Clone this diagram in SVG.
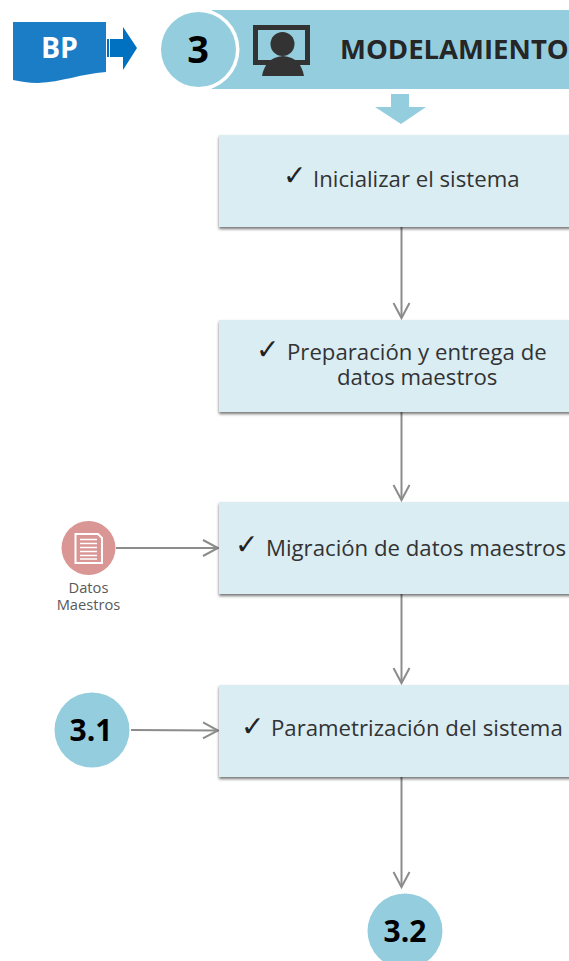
<svg xmlns="http://www.w3.org/2000/svg" width="569" height="961" viewBox="0 0 569 961">
<defs>
<style>
text{font-family:"Open Sans","Noto Sans","Liberation Sans",sans-serif}
.box{fill:#daedf3;filter:url(#sh)}
.lbl{font-size:22.200px;fill:#333}
.chk{font-size:28px;fill:#222;font-family:"DejaVu Sans",sans-serif}
.circ{fill:#94cdde}
.num{font-size:30px;font-weight:700;fill:#000;text-anchor:middle}
.cn{fill:none;stroke:#8c8c8c;stroke-width:2}
</style>
<filter id="sh" x="-5%" y="-10%" width="110%" height="125%"><feDropShadow dx="0" dy="2" stdDeviation="1.5" flood-color="#000" flood-opacity="0.55"/></filter>
<marker id="ah" markerUnits="userSpaceOnUse" markerWidth="20" markerHeight="20" refX="16" refY="9" orient="auto"><path d="M1 1L16 9L1 17" fill="none" stroke="#8c8c8c" stroke-width="2"/></marker>
</defs>
<g id="bp">
<path d="M13 22H106V72C80 74 62 82 38 83C28 83 20 81 13 80Z" fill="#1b7dc6"/>
<text x="59.500" y="58" font-size="28.500" font-weight="700" fill="#fff" text-anchor="middle">BP</text>
</g>
<g id="bp-arrow" fill="#0070c0">
<rect x="107" y="39" width="2" height="18"/>
<rect x="110" y="39" width="1" height="18"/>
<path d="M111 39H123V27L137 48L123 70V57H111Z"/>
</g>
<g id="header">
<rect x="212" y="10" width="357" height="79" fill="#94cdde"/>
<circle cx="198.500" cy="49.500" r="41" fill="#fff"/>
<circle cx="198.500" cy="49.500" r="37.500" class="circ"/>
<text x="198" y="63" class="num" style="font-size:38px">3</text>
<rect x="255.500" y="27.500" width="52" height="35" fill="none" stroke="#333" stroke-width="5"/>
<circle cx="282.500" cy="44" r="12" fill="#333"/>
<path d="M262 76C264 65 270 57 283 56C296 57 302 65 304 76Z" fill="#333"/>
<text x="340" y="59" font-size="27.500" font-weight="700" fill="#262626">MODELAMIENTO</text>
</g>
<path id="down-arrow" d="M391 94H409V107H426L401 124L375 107H391Z" fill="#94cdde"/>
<g id="connectors">
<path class="cn" d="M401.500 227V318" marker-end="url(#ah)"/>
<path class="cn" d="M401.500 412V500" marker-end="url(#ah)"/>
<path class="cn" d="M401.500 594V683" marker-end="url(#ah)"/>
<path class="cn" d="M401.500 777V887" marker-end="url(#ah)"/>
<path class="cn" d="M116 548H218" marker-end="url(#ah)"/>
<path class="cn" d="M131 730L218 730.500" marker-end="url(#ah)"/>
</g>
<g id="n1"><rect class="box" x="219" y="135" width="360" height="92"/>
<text x="283" y="185" class="chk">✓</text>
<text x="313" y="187" class="lbl">Inicializar el sistema</text></g>
<g id="n2"><rect class="box" x="219" y="320" width="360" height="92"/>
<text x="256" y="359" class="chk">✓</text>
<text class="lbl"><tspan x="287" y="360">Preparación y entrega de</tspan><tspan x="337" y="385">datos maestros</tspan></text></g>
<g id="n3"><rect class="box" x="219" y="502" width="360" height="92"/>
<text x="235" y="554" class="chk">✓</text>
<text x="266" y="556" class="lbl">Migración de datos maestros</text></g>
<g id="n4"><rect class="box" x="219" y="685" width="360" height="92"/>
<text x="241" y="736" class="chk">✓</text>
<text x="271" y="736" class="lbl">Parametrización del sistema</text></g>
<g id="datos">
<circle cx="88.500" cy="548" r="27" fill="#d99694"/>
<path d="M75.500 534H98L102 538V563H75.500Z" fill="none" stroke="#fff" stroke-width="2"/>
<path d="M80 539.500H97M80 543.500H97M80 547.500H97M80 551.500H97M80 555.500H97M80 559H97" stroke="#fff" stroke-width="1.500"/>
<text font-size="14.700" fill="#595959" text-anchor="middle"><tspan x="88.500" y="593">Datos</tspan><tspan x="88.500" y="610">Maestros</tspan></text>
</g>
<g id="n31"><circle cx="92" cy="730" r="37.500" class="circ"/><text x="91" y="741" class="num">3.1</text></g>
<g id="n32"><circle cx="405" cy="931" r="37.500" class="circ"/><text x="405" y="942" class="num">3.2</text></g>
</svg>
